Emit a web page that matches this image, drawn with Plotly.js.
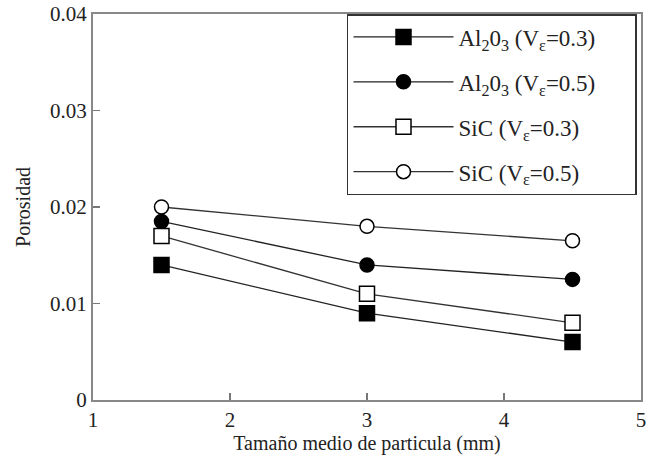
<!DOCTYPE html>
<html>
<head>
<meta charset="utf-8">
<script src="https://cdn.plot.ly/plotly-3.0.1.min.js"></script>
<style>html,body{margin:0;padding:0;background:#fff;}#chart{width:652px;height:463px;}</style>
</head>
<body>
<div id="chart"></div>
<script>
var particleSize = [1.5, 3, 4.5];
var al2o3_03 = [0.014, 0.009, 0.006];
var al2o3_05 = [0.0185, 0.014, 0.0125];
var sic_03 = [0.017, 0.011, 0.008];
var sic_05 = [0.020, 0.018, 0.0165];
var seriesNames = [
  'Al<sub>2</sub>0<sub>3</sub> (V<sub>ε</sub>=0.3)',
  'Al<sub>2</sub>0<sub>3</sub> (V<sub>ε</sub>=0.5)',
  'SiC (V<sub>ε</sub>=0.3)',
  'SiC (V<sub>ε</sub>=0.5)'
];

var font = 'Liberation Serif, Times New Roman, serif';
var pad = '\u00a0\u00a0\u00a0\u00a0\u00a0\u00a0';
function tr(y, name, sym, filled, lc, g) {
  return {
    x: particleSize, y: y, name: name + pad, type: 'scatter', mode: 'lines+markers',
    legendgroup: g,
    line: {color: lc, width: 1.3},
    marker: {symbol: sym, size: sym === 'square' ? 15 : 14,
             color: filled ? '#000' : '#fff',
             line: {color: '#000', width: 1.5}}
  };
}
var data = [
  tr(al2o3_03, seriesNames[0], 'square', true, '#222', 'a'),
  tr(al2o3_05, seriesNames[1], 'circle', true, '#222', 'b'),
  tr(sic_03, seriesNames[2], 'square', false, '#333', 'c'),
  tr(sic_05, seriesNames[3], 'circle', false, '#333', 'd')
];

var layout = {
  width: 652, height: 463,
  margin: {l: 93, r: 11, t: 14, b: 63},
  paper_bgcolor: '#fff', plot_bgcolor: '#fff',
  font: {family: font, color: '#222', size: 20},
  showlegend: true,
  legend: {
    x: 0.4635, y: 1, xanchor: 'left', yanchor: 'top',
    bordercolor: '#333', borderwidth: 1.5, bgcolor: '#fff',
    font: {family: font, size: 23, color: '#222'},
    itemwidth: 100, tracegroupgap: 12
  },
  xaxis: {
    range: [1, 5], dtick: 1, tick0: 1,
    ticks: 'inside', ticklen: 7, tickcolor: '#777', tickwidth: 1.5,
    showline: true, linecolor: '#888', linewidth: 2, mirror: true,
    showgrid: false, zeroline: false,
    tickfont: {family: font, size: 21, color: '#222'},
    title: {text: 'Tamaño medio de particula (mm)', font: {family: font, size: 20, color: '#222'}, standoff: 4}
  },
  yaxis: {
    range: [0, 0.04], dtick: 0.01,
    ticks: 'inside', ticklen: 7, tickcolor: '#777', tickwidth: 1.5,
    showline: true, linecolor: '#888', linewidth: 2, mirror: true,
    showgrid: false, zeroline: false,
    tickfont: {family: font, size: 21, color: '#222'},
    title: {text: 'Porosidad', font: {family: font, size: 20, color: '#222'}, standoff: 14}
  }
};
Plotly.newPlot('chart', data, layout, {displayModeBar: false, staticPlot: true});
</script>
</body>
</html>
